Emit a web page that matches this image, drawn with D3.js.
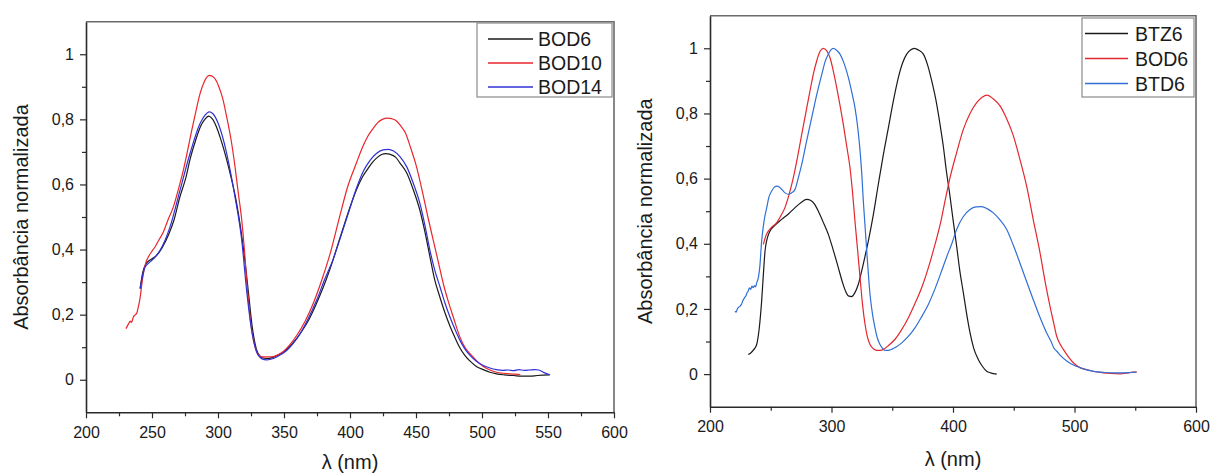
<!DOCTYPE html>
<html><head><meta charset="utf-8">
<script src="https://cdn.jsdelivr.net/npm/d3@7"></script>
<style>
body{margin:0;background:#fff;}
svg text{font-family:"Liberation Sans",Arial,sans-serif;fill:#1a1a1a;}
</style></head>
<body><svg id="c" width="1211" height="474"></svg>
<script>
// ---------- DATA (wavelength nm, normalized absorbance) ----------
const leftSeriesNames = ["BOD6","BOD10","BOD14"];
const rightSeriesNames = ["BTZ6","BOD6","BTD6"];
const yTicks = [0,0.2,0.4,0.6,0.8,1];
const yMinor = [0.1,0.3,0.5,0.7,0.9];
const xTicksLeft = [200,250,300,350,400,450,500,550,600];
const xMinorLeft = [225,275,325,375,425,475,525,575];
const xTicksRight = [200,300,400,500,600];
const xMinorRight = [250,350,450,550];

const bod6Left = [[241,0.28],[243,0.33],[245.6,0.357],[250,0.372],[253,0.38],[257.6,0.405],[263,0.45],[266.6,0.49],[271,0.56],[275.6,0.62],[279,0.68],[283,0.735],[287,0.78],[290,0.80],[293,0.81],[296,0.80],[299,0.775],[302,0.74],[306,0.685],[310,0.62],[314,0.545],[317,0.47],[320,0.38],[323,0.27],[326,0.16],[329,0.095],[332,0.072],[335,0.066],[338,0.065],[341,0.068],[344.5,0.074],[350.5,0.088],[355,0.105],[359.5,0.126],[364,0.152],[368.5,0.182],[373,0.22],[377.5,0.262],[382,0.308],[386.5,0.36],[391,0.418],[395.5,0.475],[400,0.53],[404.5,0.58],[409,0.62],[413.5,0.648],[417,0.668],[421,0.684],[424,0.692],[427,0.695],[430,0.693],[434.5,0.684],[438,0.665],[443,0.635],[448,0.583],[453,0.52],[457,0.45],[460.6,0.377],[464,0.31],[468,0.255],[472,0.205],[476,0.162],[480,0.125],[483,0.1],[487,0.075],[491,0.057],[496,0.04],[501,0.031],[506,0.023],[511,0.018],[517,0.015],[524,0.013],[530,0.011],[536,0.011],[542,0.013],[546,0.014],[551,0.015]];

const bod10Left = [[230.3,0.157],[232,0.17],[233.5,0.18],[234.5,0.176],[235.9,0.193],[237.5,0.2],[238.5,0.205],[239.6,0.223],[240.5,0.24],[241.4,0.264],[242.5,0.3],[243.9,0.336],[245.5,0.362],[247.2,0.377],[250,0.395],[252.3,0.408],[255,0.428],[258.6,0.454],[262,0.49],[266.2,0.531],[270,0.585],[273.7,0.643],[277,0.705],[280.1,0.766],[283,0.82],[286.4,0.879],[289.5,0.915],[293.4,0.935],[297,0.928],[300.2,0.905],[303.5,0.865],[306.6,0.807],[310,0.735],[312.9,0.654],[315.5,0.57],[318,0.49],[320,0.4],[321.7,0.305],[323.5,0.225],[325.5,0.152],[327.5,0.11],[329.3,0.085],[331.5,0.074],[334.3,0.07],[338,0.07],[341.9,0.071],[345.5,0.077],[349.5,0.087],[354.5,0.108],[359.6,0.136],[366,0.18],[372.2,0.235],[378.5,0.305],[384.8,0.385],[392.4,0.505],[398,0.59],[404.5,0.662],[409,0.71],[413.5,0.748],[417.7,0.773],[421,0.79],[424.5,0.8],[428,0.804],[431.5,0.802],[434.5,0.797],[438,0.782],[442,0.758],[446,0.712],[450,0.66],[455,0.575],[459,0.5],[463,0.43],[467,0.36],[470.7,0.295],[474.5,0.24],[478.3,0.192],[483.3,0.131],[487,0.1],[490.9,0.08],[496,0.058],[501,0.041],[506,0.03],[511,0.023],[516,0.02],[521,0.018],[525,0.017],[529,0.016]];

const bod14Left = [[241,0.28],[244.7,0.346],[248.5,0.362],[252,0.375],[256,0.397],[263.6,0.469],[271.2,0.582],[278.8,0.695],[286.4,0.787],[290,0.812],[293.4,0.823],[296,0.818],[300.2,0.787],[306.6,0.695],[312.9,0.561],[318,0.428],[321.7,0.274],[325.5,0.152],[329.3,0.085],[333,0.065],[336.9,0.061],[340,0.063],[344.4,0.07],[352,0.09],[357,0.112],[362.1,0.141],[368,0.185],[374.7,0.244],[381,0.31],[387.4,0.372],[392.4,0.432],[399,0.515],[405,0.59],[410,0.64],[415.2,0.674],[420,0.695],[425,0.706],[429,0.708],[433,0.703],[438,0.685],[443,0.654],[448,0.603],[453,0.541],[457,0.47],[460.6,0.397],[464,0.34],[468.2,0.285],[472,0.235],[475.8,0.192],[479.5,0.155],[483.3,0.121],[487,0.095],[490.9,0.075],[496,0.056],[501,0.044],[506,0.036],[511,0.031],[516,0.029],[520,0.03],[524,0.028],[528,0.031],[532,0.029],[536,0.03],[540,0.031],[543,0.03],[547,0.022],[551.5,0.015]];

const btz6Right = [[231.5,0.06],[233.5,0.065],[236,0.075],[238.4,0.091],[240.5,0.14],[242.5,0.224],[244,0.31],[245.3,0.378],[247,0.415],[249.4,0.439],[253,0.455],[259,0.475],[265,0.493],[270,0.511],[275,0.527],[279.6,0.536],[283,0.533],[286,0.522],[289.2,0.5],[293,0.468],[297.4,0.429],[301.5,0.38],[305.6,0.327],[309,0.282],[311.5,0.255],[313.9,0.24],[316.5,0.238],[319.3,0.25],[322,0.275],[324.8,0.316],[327.5,0.36],[330.3,0.408],[334,0.48],[338.5,0.582],[342.5,0.67],[346.8,0.756],[351,0.84],[355,0.91],[358.5,0.955],[361.9,0.982],[365,0.995],[368.2,1.0],[371.5,0.995],[375.6,0.982],[379,0.95],[382.5,0.9],[386,0.84],[389.3,0.767],[392,0.7],[394.5,0.625],[397.5,0.547],[400,0.475],[403,0.393],[405.5,0.32],[408.5,0.25],[411,0.19],[414,0.127],[417,0.08],[420.8,0.045],[424,0.025],[427.7,0.009],[431,0.004],[436,0.0]];

const bod6Right = [[243.9,0.398],[246,0.425],[248,0.439],[251,0.452],[254.9,0.465],[258,0.484],[261.7,0.511],[265,0.55],[268.6,0.603],[272,0.665],[275.5,0.736],[279,0.805],[282.3,0.869],[285,0.92],[287.8,0.961],[290.5,0.99],[293.2,1.0],[296,0.993],[298.8,0.971],[301.5,0.93],[304.3,0.879],[307,0.825],[309.7,0.767],[312.5,0.7],[315.2,0.634],[317.5,0.55],[319.3,0.47],[321.5,0.38],[323.5,0.296],[325.5,0.215],[327.6,0.153],[329.5,0.115],[331.7,0.091],[334.5,0.078],[337.2,0.073],[340,0.073],[342.7,0.076],[347,0.088],[352.3,0.107],[357.5,0.135],[363.3,0.173],[368.5,0.215],[374.2,0.265],[380,0.33],[385.2,0.398],[389.5,0.46],[393.4,0.531],[398,0.61],[403,0.68],[408.5,0.751],[414,0.8],[419.5,0.833],[424,0.85],[428.2,0.856],[433,0.845],[438.7,0.823],[444,0.785],[449.7,0.731],[455,0.66],[460.6,0.577],[466,0.475],[471.6,0.373],[476,0.28],[479.8,0.209],[483,0.155],[485.3,0.117],[488,0.093],[490.8,0.076],[495,0.053],[499,0.035],[504.5,0.02],[510,0.014],[516,0.008],[523.7,0.004],[530,0.002],[537.4,0.001],[544,0.004],[548,0.006],[551.2,0.006]];

const btd6Right = [[220.6,0.193],[221.5,0.19],[222.5,0.2],[223.5,0.205],[224.7,0.208],[226,0.215],[227,0.225],[228.5,0.235],[229.5,0.24],[230.5,0.25],[231.5,0.255],[232.5,0.265],[233.5,0.26],[234.5,0.27],[235.6,0.265],[236.5,0.272],[237.5,0.268],[238.4,0.28],[239.8,0.296],[241,0.33],[242.5,0.408],[244.5,0.47],[246.7,0.511],[248.5,0.543],[250.8,0.562],[253,0.574],[254.9,0.577],[257,0.574],[259,0.567],[261.5,0.557],[264.5,0.552],[267,0.556],[270,0.567],[272.5,0.6],[275.5,0.644],[279.5,0.715],[283.7,0.787],[288,0.86],[292,0.92],[295,0.962],[297.4,0.982],[299.5,0.995],[301.5,1.0],[304,0.995],[307,0.982],[310.5,0.952],[313.9,0.91],[317,0.86],[319.3,0.818],[321.5,0.76],[323.5,0.685],[325,0.61],[326.2,0.531],[327.6,0.455],[329,0.378],[330.3,0.31],[331.7,0.245],[333.7,0.185],[335.8,0.142],[337.8,0.11],[339.9,0.091],[342,0.079],[344,0.073],[346.5,0.073],[349.5,0.076],[353.5,0.084],[357.8,0.096],[363,0.115],[368.7,0.142],[374,0.175],[379.7,0.214],[385,0.26],[390,0.31],[395,0.362],[399,0.4],[403,0.444],[408.4,0.483],[414,0.505],[419,0.513],[423.6,0.514],[428,0.508],[433.2,0.495],[438.5,0.474],[444.2,0.444],[449.5,0.397],[455,0.342],[460.5,0.285],[466,0.229],[471.5,0.175],[477,0.127],[481,0.098],[483,0.08],[485.3,0.071],[489,0.055],[493.6,0.04],[499,0.028],[504.5,0.02],[510,0.013],[518.3,0.007],[525,0.005],[532,0.004],[540,0.004],[546,0.005],[551,0.006]];

const leftColors = ["#1a1a1a","#e8262b","#3030d6"];
const rightColors = ["#1a1a1a","#e2282e","#2f6fd6"];

// ---------- DRAW ----------
const svg = d3.select("#c");
const fmt = v => v===0 ? "0" : (v===1 ? "1" : String(v).replace(".", ","));

function panel(cfg){
  const x = d3.scaleLinear().domain([200,600]).range([cfg.x0, cfg.x1]);
  const y = d3.scaleLinear().domain([-0.1,1.1]).range([cfg.y1, cfg.y0]);
  const g = svg.append("g");
  // frame (top, right)
  g.append("path").attr("d", `M${x(200)},${y(1.1)}H${x(600)}V${y(-0.1)}`)
    .attr("fill","none").attr("stroke","#6a6a6a").attr("stroke-width",1.6);

  // curves
  const line = d3.line().x(d=>x(d[0])).y(d=>y(d[1])).curve(d3.curveMonotoneX);
  cfg.series.forEach((s,i)=>{
    g.append("path").datum(s).attr("d", line).attr("fill","none")
      .attr("stroke", cfg.colors[i]).attr("stroke-width",1.2).attr("stroke-linejoin","round");
  });

  // axes
  g.append("g").attr("transform",`translate(${x(200)},0)`)
    .call(d3.axisLeft(y).tickValues(yTicks).tickFormat(fmt).tickSize(6).tickSizeOuter(0).tickPadding(6));
  g.append("g").attr("transform",`translate(${x(200)},0)`)
    .call(d3.axisLeft(y).tickValues(yMinor).tickFormat("").tickSize(4).tickSizeOuter(0))
    .select(".domain").remove();
  g.append("g").attr("transform",`translate(0,${y(-0.1)})`)
    .call(d3.axisBottom(x).tickValues(cfg.xTicks).tickFormat(d3.format("d")).tickSize(6).tickSizeOuter(0).tickPadding(8));
  g.append("g").attr("transform",`translate(0,${y(-0.1)})`)
    .call(d3.axisBottom(x).tickValues(cfg.xMinor).tickFormat("").tickSize(4).tickSizeOuter(0))
    .select(".domain").remove();
  g.selectAll(".domain").attr("stroke","#2a2a2a").attr("stroke-width",1.6);
  g.selectAll(".tick line").attr("stroke","#2a2a2a").attr("stroke-width",1.2);
  g.selectAll(".tick text").attr("font-size",16).attr("fill","#1a1a1a")
    .style("font-family",'"Liberation Sans",Arial,sans-serif');

  // axis titles
  g.append("text").attr("x",(x(200)+x(600))/2).attr("y",cfg.xTitleY)
    .attr("text-anchor","middle").attr("font-size",20).text("λ (nm)");
  g.append("text").attr("transform",`translate(${cfg.yTitleX},${(y(-0.1)+y(1.1))/2}) rotate(-90)`)
    .attr("text-anchor","middle").attr("dy","0.35em").attr("font-size",20).text("Absorbância normalizada");

  // legend
  const L = cfg.legend;
  g.append("rect").attr("x",L.x).attr("y",L.y).attr("width",L.w).attr("height",L.h)
    .attr("fill","#fff").attr("stroke","#8a8a8a").attr("stroke-width",1.2);
  cfg.names.forEach((n,i)=>{
    const yy = L.rowY + i*L.step;
    g.append("line").attr("x1",L.lx0).attr("x2",L.lx1).attr("y1",yy).attr("y2",yy)
      .attr("stroke",cfg.colors[i]).attr("stroke-width",1.3);
    g.append("text").attr("x",L.tx).attr("y",yy).attr("dy","0.36em")
      .attr("font-size",19.5).text(n);
  });
}

panel({x0:86,x1:614,y0:21.7,y1:412.3,series:[bod6Left,bod10Left,bod14Left],colors:leftColors,
  names:leftSeriesNames,xTicks:xTicksLeft,xMinor:xMinorLeft,xTitleY:469,yTitleX:21,
  legend:{x:477,y:23,w:135,h:74,rowY:39,step:24,lx0:488,lx1:533,tx:538}});
panel({x0:710,x1:1196,y0:15.7,y1:406.7,series:[btz6Right,bod6Right,btd6Right],colors:rightColors,
  names:rightSeriesNames,xTicks:xTicksRight,xMinor:xMinorRight,xTitleY:466,yTitleX:645,
  legend:{x:1082,y:18,w:112,h:79,rowY:33.5,step:25,lx0:1085,lx1:1128,tx:1135}});
</script></body></html>
